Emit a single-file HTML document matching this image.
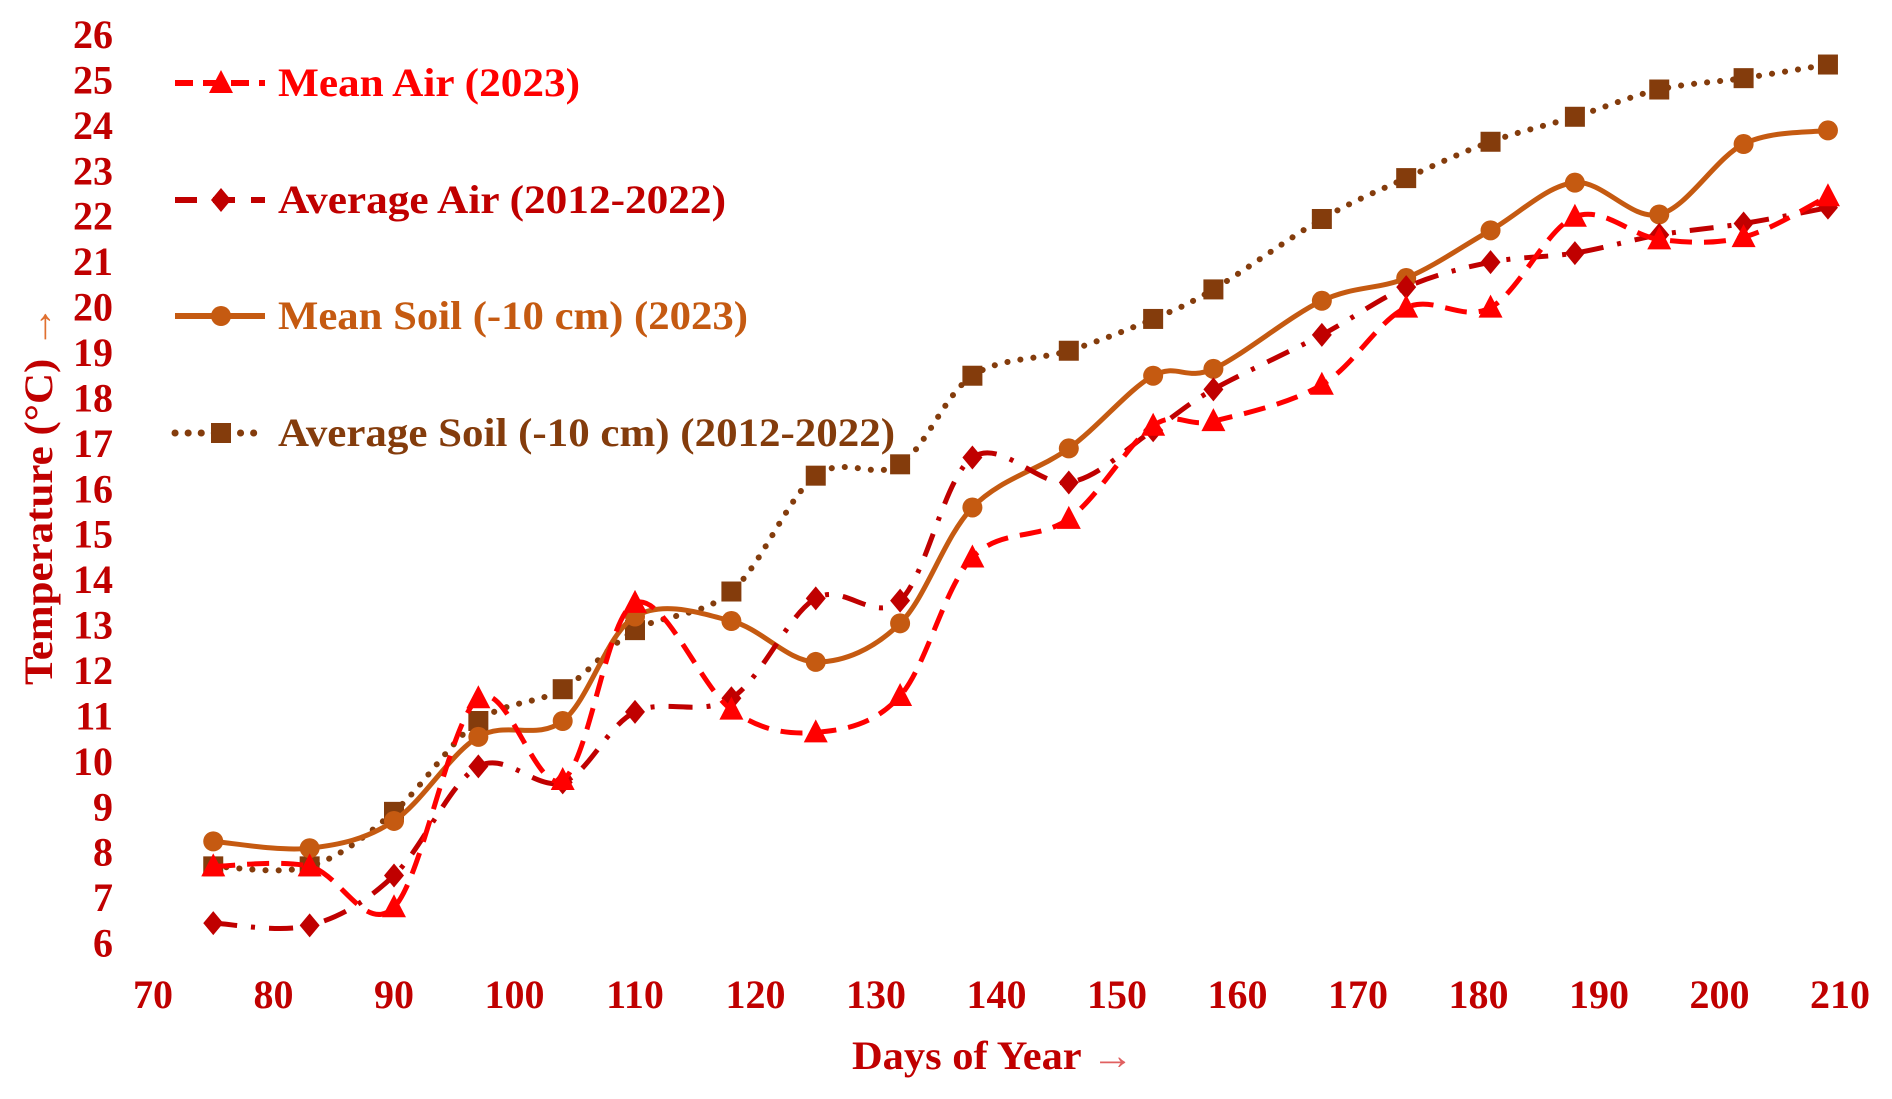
<!DOCTYPE html>
<html><head><meta charset="utf-8"><style>
html,body{margin:0;padding:0;background:#fff;}
svg{display:block;font-family:"Liberation Serif",serif;font-weight:bold;}
</style></head><body>
<svg id="chart" width="1892" height="1099" viewBox="0 0 1892 1099" xmlns="http://www.w3.org/2000/svg">
<g id="yticks"></g>
<g id="xticks"></g>
<g id="series"></g>
<g id="legend"></g>
<text transform="translate(52,495) rotate(-90)" text-anchor="middle" font-size="40" fill="#c00000" textLength="380" lengthAdjust="spacingAndGlyphs">Temperature  (°C) <tspan fill="#e07030">→</tspan></text>
<text x="993" y="1069" text-anchor="middle" font-size="40" fill="#c00000" textLength="282" lengthAdjust="spacingAndGlyphs">Days of Year <tspan fill="#e06060">→</tspan></text>
</svg>
<script>
const days = [75,83,90,97,104,110,118,125,132,138,146,153,158,167,174,181,188,195,202,209];
const meanAir = [7.7,7.7,6.8,11.4,9.6,13.5,11.15,10.65,11.45,14.5,15.35,17.4,17.5,18.3,20.0,20.0,22.0,21.5,21.55,22.45];
const avgAir = [6.45,6.4,7.5,9.9,9.55,11.1,11.4,13.6,13.55,16.7,16.15,17.3,18.2,19.4,20.45,21.0,21.2,21.6,21.85,22.2];
const meanSoil = [8.25,8.1,8.7,10.55,10.9,13.2,13.1,12.2,13.05,15.6,16.9,18.5,18.65,20.15,20.65,21.7,22.75,22.05,23.6,23.9];
const avgSoil = [7.7,7.7,8.9,10.9,11.6,12.9,13.75,16.3,16.55,18.5,19.05,19.75,20.4,21.95,22.85,23.65,24.2,24.8,25.05,25.35];
const yTicks = [6,7,8,9,10,11,12,13,14,15,16,17,18,19,20,21,22,23,24,25,26];
const xTicks = [70,80,90,100,110,120,130,140,150,160,170,180,190,200,210];
const legendLabels = ["Mean Air (2023)","Average Air (2012-2022)","Mean Soil (-10 cm) (2023)","Average Soil (-10 cm) (2012-2022)"];

const NS="http://www.w3.org/2000/svg";
const X = d => 153 + (d-70)*12.05;
const Y = v => 35 + (26-v)*45.43;
function mk(tag, attrs, parent){const e=document.createElementNS(NS,tag);for(const k in attrs)e.setAttribute(k,attrs[k]);parent.appendChild(e);return e;}

const yg=document.getElementById('yticks');
yTicks.forEach(v=>{const t=mk('text',{x:113,y:Y(v)+13,'text-anchor':'end','font-size':40,fill:'#c00000'},yg);


t.textContent=v;});
const xg=document.getElementById('xticks');
xTicks.forEach(v=>{const t=mk('text',{x:X(v),y:1008,'text-anchor':'middle','font-size':40,fill:'#c00000'},xg);


t.textContent=v;});

function smooth(pts){let d=`M${pts[0][0]},${pts[0][1]}`;
for(let i=0;i<pts.length-1;i++){const p0=pts[i-1]||pts[i],p1=pts[i],p2=pts[i+1],p3=pts[i+2]||p2;const t=6;
d+=` C${p1[0]+(p2[0]-p0[0])/t},${p1[1]+(p2[1]-p0[1])/t} ${p2[0]-(p3[0]-p1[0])/t},${p2[1]-(p3[1]-p1[1])/t} ${p2[0]},${p2[1]}`;}return d;}

function marker(type,x,y,color,g){let e;
if(type==='tri')e=mk('polygon',{points:`${x},${y-13} ${x-12},${y+10} ${x+12},${y+10}`,fill:color},g);
else if(type==='dia')e=mk('polygon',{points:`${x},${y-12} ${x+10},${y} ${x},${y+12} ${x-10},${y}`,fill:color},g);
else if(type==='circ')e=mk('circle',{cx:x,cy:y,r:10,fill:color},g);
else e=mk('rect',{x:x-10,y:y-10,width:20,height:20,fill:color},g);
return e;}

const series=[
 {vals:avgSoil,color:'#843c0c',dash:'0.1,13',w:6,cap:'round',m:'sq',name:'average-soil'},
 {vals:meanSoil,color:'#c55a11',dash:'none',w:5,cap:'butt',m:'circ',name:'mean-soil'},
 {vals:avgAir,color:'#c00000',dash:'24,14,4,14',w:5,cap:'butt',m:'dia',name:'average-air'},
 {vals:meanAir,color:'#ff0000',dash:'22,12',w:5,cap:'butt',m:'tri',name:'mean-air'}
];
const sg=document.getElementById('series');
series.forEach(s=>{const g=mk('g',{},sg);


const pts=days.map((d,i)=>[X(d),Y(s.vals[i])]);
const p=mk('path',{d:smooth(pts),fill:'none',stroke:s.color,'stroke-width':s.w,'stroke-dasharray':s.dash,'stroke-linecap':s.cap},g);


pts.forEach(q=>{const e=marker(s.m,q[0],q[1],s.color,g);

});});

const lg=document.getElementById('legend');
const legendSeries=[series[3],series[2],series[1],series[0]];
const ly=[83,200,316,433];
const lEnds=[580,726,748,895];
legendSeries.forEach((s,i)=>{const g=mk('g',{},lg);


mk('line',{x1:175,y1:ly[i],x2:265,y2:ly[i],stroke:s.color,'stroke-width':s.w+1,'stroke-dasharray':s.dash==='none'?'none':(s.m==='sq'?'0.1,13':(s.m==='dia'?'22,16':'18,10')),'stroke-linecap':s.cap},g);
marker(s.m,221,ly[i],s.color,g);
const t=mk('text',{x:278,y:ly[i]+13,'font-size':40,fill:s.color,textLength:lEnds[i]-278,lengthAdjust:'spacingAndGlyphs'},g);


t.textContent=legendLabels[i];});
</script>
</body></html>
